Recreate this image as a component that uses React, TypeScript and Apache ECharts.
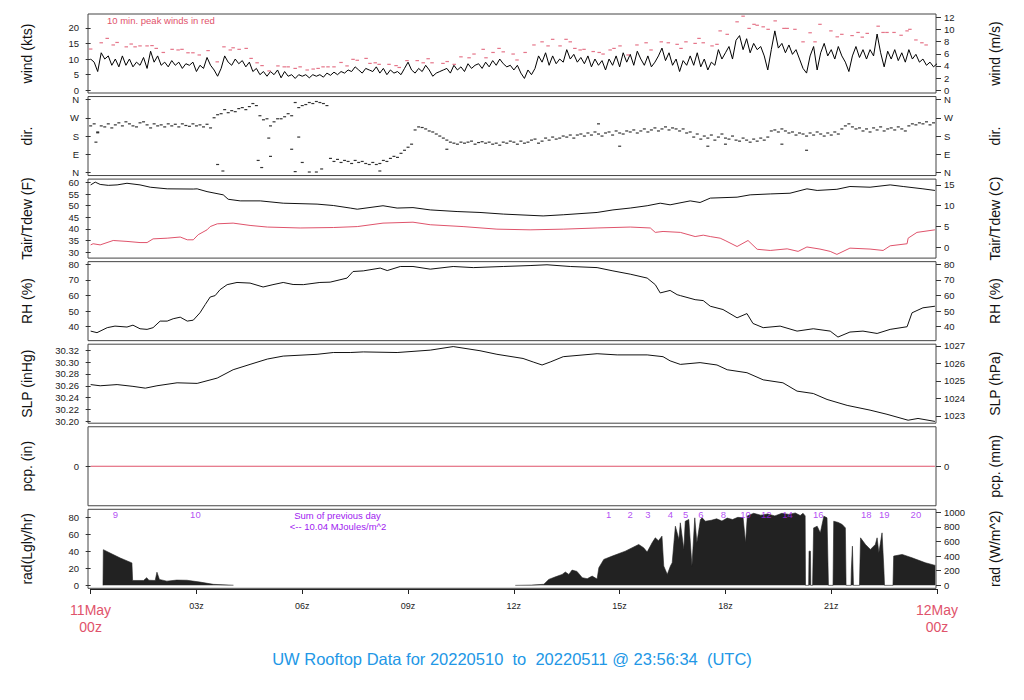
import React, { useEffect, useRef } from "react";
import * as echarts from "echarts";

const FONT = '"Liberation Sans", Arial, Helvetica, sans-serif';
const RED = "#DF536B";
const BLUE = "#2297E6";
const PURPLE = "#A020F0";

// ---------- wind speed (kts), one value every 0.1 h from 00z ----------
const WIND_STEP_H = 0.1;
const windKts = [
  10, 9, 6, 12, 10, 11, 8, 10, 7.5, 11,
  8, 10, 7.5, 9, 8, 10.5, 7, 12.5, 9, 11,
  8, 9, 7.5, 9.5, 8, 9, 7, 8.5, 8, 9,
  6, 8, 7, 10.5, 8, 6.5, 4.5, 7, 11, 9,
  8, 10, 8.5, 9.5, 7.5, 9, 6, 7, 5, 6,
  4.5, 6, 5, 6.5, 4, 6, 4.5, 5, 3.8, 5,
  4.5, 5, 4, 5, 4.5, 5, 4.2, 5.5, 4.8, 5.8,
  5, 6, 5.5, 6.5, 6, 7.5, 6.5, 5.5, 7, 6.5,
  6, 7.5, 5.5, 7, 5, 6.5, 5.5, 6, 5, 7,
  9, 6.5, 5.5, 7, 6, 8, 6.5, 4.5, 5.5, 6,
  6.5, 7, 5.5, 8, 6.5, 7.5, 6, 8.5, 7, 8,
  8.5, 7, 9, 7.5, 9.5, 8, 10, 8.5, 7.5, 8,
  6.5, 8, 5.5, 3.8, 6.5, 5, 7, 11, 9, 12,
  8, 11, 8.5, 10, 9, 13, 10, 11.5, 9, 10.5,
  8.5, 11, 7.5, 10, 8, 9.5, 6.5, 10, 8, 11,
  7.5, 12, 9, 11.5, 8, 12.5, 10, 8, 11, 7.5,
  9, 11, 13.5, 9.5, 12, 8, 10, 6, 9.5, 8,
  11, 8, 12, 7.5, 10, 6.5, 9, 8, 13, 10,
  12, 14, 10, 16, 17.5, 13, 16.5, 12, 15, 13,
  14, 11, 6.5, 13, 19, 13.5, 15, 12, 14.5, 11.5,
  13, 10, 7, 5.5, 11, 14, 6.5, 12, 15, 11,
  13, 10, 14, 11, 9, 6, 11, 14, 10.5, 13,
  10, 13, 11, 18, 12, 7.5, 12.5, 10, 13, 9.5,
  12, 9, 13, 10, 11.5, 9, 10, 8, 9, 7.5,
  8.5,
];

// ---------- 10-min peak winds [hour, kts] ----------
const peakWinds = [
  [0.0, 13.2], [0.3, 15.2], [0.47, 16.6], [0.64, 14.5], [0.75, 15.3], [1.01, 13.9], [1.15, 14.8],
  [1.26, 13.9], [1.4, 14.2], [1.6, 14.2], [1.74, 14.3], [1.86, 13.4], [2.06, 12.1], [2.31, 13.1],
  [2.48, 12.9], [2.59, 13.1], [2.76, 12.0], [2.9, 12.0], [3.08, 11.3], [3.33, 12.7], [3.59, 9.1],
  [3.78, 13.9], [3.96, 12.9], [4.04, 13.6], [4.21, 13.1], [4.41, 13.4], [4.55, 10.2], [4.72, 8.8],
  [4.86, 7.9], [5.06, 6.2], [5.31, 7.8], [5.49, 7.5], [5.6, 7.5], [5.8, 7.0], [5.94, 7.5],
  [6.14, 6.5], [6.31, 6.8], [6.45, 7.0], [6.59, 7.5], [6.73, 7.5], [6.9, 7.5], [7.1, 8.9],
  [7.27, 7.8], [7.44, 9.9], [7.56, 9.6], [7.81, 10.2], [7.92, 8.6], [8.07, 8.8], [8.18, 8.3],
  [8.46, 8.3], [8.66, 7.9], [8.75, 7.3], [8.97, 9.5], [9.26, 9.5], [9.43, 8.8], [9.57, 10.1],
  [9.68, 8.8], [9.99, 8.6], [10.11, 9.2], [10.31, 8.3], [10.5, 10.7], [10.73, 10.4], [10.87, 11.6],
  [11.13, 13.1], [11.21, 10.4], [11.41, 12.1], [11.58, 13.4], [11.7, 12.3], [11.98, 11.6],
  [12.09, 9.7], [12.32, 12.1], [12.57, 14.5], [12.8, 15.5], [12.97, 14.2], [13.1, 16.3],
  [13.31, 14.2], [13.48, 16.3], [13.6, 15.5], [13.73, 13.4], [13.88, 12.9], [13.99, 13.1],
  [14.25, 12.4], [14.42, 12.1], [14.53, 11.6], [14.73, 12.9], [14.84, 13.4], [15.01, 14.2],
  [15.24, 11.3], [15.49, 14.5], [15.75, 15.2], [15.89, 12.9], [16.18, 15.5], [16.38, 15.2],
  [16.63, 14.7], [16.74, 13.4], [16.88, 15.5], [17.14, 15.0], [17.25, 16.6], [17.37, 15.2],
  [17.62, 14.2], [17.76, 14.7], [17.85, 19.0], [18.05, 17.9], [18.33, 21.9], [18.5, 23.7],
  [18.67, 19.8], [18.81, 21.1], [18.9, 20.8], [19.07, 20.3], [19.21, 19.5], [19.41, 22.2],
  [19.66, 19.8], [19.75, 19.8], [19.97, 19.5], [20.2, 15.5], [20.4, 18.4], [20.54, 15.5],
  [20.68, 21.1], [20.99, 19.0], [21.17, 17.1], [21.3, 17.9], [21.59, 17.5], [21.76, 18.5],
  [21.88, 17.0], [22.02, 18.2], [22.33, 20.5], [22.47, 18.5], [22.58, 18.5], [22.78, 18.5],
  [22.98, 17.6], [23.15, 19.0], [23.23, 19.5], [23.4, 16.1], [23.57, 15.2], [23.69, 14.5],
];

// ---------- wind direction (deg), one value every 0.1 h ----------
const dirDeg = [
  230, 240, 200, 230, 225, 240, 220, 235, 245, 230,
  250, 240, 230, 225, 245, 250, 235, 220, 240, 230,
  235, 225, 240, 230, 238, 225, 240, 232, 228, 240,
  230, 235, 225, 238, 220, 270, 285, 290, 310, 295,
  305, 300, 315, 320, 310, 325, 340, 330, 280, 260,
  265, 230, 250, 265, 265, 275, 290, 280, 345, 320,
  330, 335, 345, 340, 350, 345, 340, 330, 70, 55,
  65, 50, 60, 55, 45, 60, 50, 55, 45, 40,
  50, 40, 45, 60, 55, 70, 80, 75, 95, 110,
  125, 140, 210, 225, 222, 215, 205, 200, 190, 180,
  170, 160, 150, 145, 140, 150, 145, 150, 155, 140,
  148, 152, 145, 150, 140, 145, 135, 150, 145, 155,
  150, 140, 155, 145, 150, 160, 165, 145, 155, 170,
  160, 175, 165, 170, 180, 175, 185, 170, 185, 190,
  180, 195, 185, 200, 190, 180, 195, 200, 185, 205,
  195, 190, 205, 200, 210, 195, 205, 215, 200, 210,
  220, 205, 215, 225, 210, 220, 215, 205, 215, 195,
  200, 175, 190, 165, 180, 170, 185, 160, 175, 190,
  170, 165, 180, 160, 155, 170, 160, 150, 165, 155,
  170, 160, 175, 205, 210, 200, 215, 205, 195, 200,
  185, 195, 190, 180, 195, 185, 200, 190, 180, 195,
  185, 200, 190, 215, 230, 240, 225, 215, 220, 205,
  215, 200, 220, 210, 225, 205, 215, 220, 210, 225,
  215, 205, 230, 240, 235, 245, 240, 250, 235, 245,
  240,
];
const dirOutliers = [
  [0.15, 150], [0.2, 196], [3.6, 40], [3.75, 8], [4.75, 60], [4.85, 25], [5.05, 170], [5.1, 80],
  [5.7, 115], [5.8, 5], [5.9, 175], [6.0, 50], [6.2, 3], [6.4, 3], [6.55, 18], [8.2, 8],
  [10.1, 115], [14.4, 240], [15.0, 130], [17.5, 130], [18.0, 140], [19.6, 140], [20.3, 110],
];

// ---------- air temperature / dew point (F) [hour, F] ----------
const tairF = [
  [0.0, 59.0], [0.13, 60.2], [0.27, 59.2], [0.5, 58.8], [0.75, 59.0], [1.03, 59.7], [1.4, 59.0],
  [1.69, 58.0], [2.17, 57.3], [2.91, 57.2], [3.02, 57.3], [3.3, 56.1], [3.76, 54.7], [3.9, 52.8],
  [4.24, 52.1], [4.81, 52.1], [5.46, 51.1], [6.42, 50.7], [6.88, 50.1], [7.36, 49.0], [7.56, 48.5],
  [8.29, 50.0], [8.69, 49.0], [9.14, 49.2], [9.63, 48.2], [10.39, 47.5], [11.04, 47.1],
  [11.7, 46.4], [12.83, 45.6], [13.4, 46.1], [14.36, 47.1], [14.81, 48.2], [15.3, 49.0],
  [15.78, 50.0], [16.15, 51.1], [16.43, 50.4], [17.0, 52.1], [17.28, 51.4], [17.57, 53.3],
  [18.33, 53.7], [18.7, 54.7], [19.27, 55.1], [19.83, 55.4], [20.31, 57.3], [20.6, 56.6],
  [21.16, 57.1], [21.53, 58.3], [22.1, 58.0], [22.67, 59.0], [23.04, 58.3], [23.6, 57.3],
  [23.94, 56.6],
];
const tdewF = [
  [0.0, 33.1], [0.07, 33.6], [0.27, 33.1], [0.64, 35.0], [1.03, 34.6], [1.4, 34.1], [1.6, 34.1],
  [1.77, 35.7], [2.17, 36.0], [2.54, 36.5], [2.74, 35.3], [2.91, 35.3], [3.05, 37.5], [3.3, 39.6],
  [3.39, 41.0], [3.59, 42.2], [4.04, 42.5], [4.52, 41.5], [5.01, 40.8], [5.94, 40.4], [6.88, 40.6],
  [7.56, 41.0], [8.29, 42.5], [9.14, 42.9], [9.63, 41.8], [10.56, 41.0], [11.52, 39.9],
  [12.46, 39.6], [13.4, 39.9], [14.36, 40.4], [15.3, 40.8], [15.87, 40.4], [16.01, 38.5],
  [16.23, 38.9], [16.72, 38.5], [17.14, 36.7], [17.37, 37.3], [17.57, 36.7], [17.85, 36.0],
  [17.99, 35.0], [18.33, 32.4], [18.64, 35.0], [18.9, 31.2], [19.27, 30.7], [19.75, 31.4],
  [20.06, 30.3], [20.31, 32.2], [20.68, 31.3], [20.97, 30.3], [21.16, 29.0], [21.53, 31.7],
  [22.1, 31.3], [22.47, 30.7], [22.67, 32.7], [23.15, 33.6], [23.18, 36.0], [23.43, 38.5],
  [23.94, 39.6],
];

// ---------- relative humidity (%) [hour, %] ----------
const rhPct = [
  [0.0, 37.2], [0.18, 36.2], [0.47, 39.4], [0.69, 40.4], [1.03, 39.8], [1.2, 41.0], [1.4, 38.7],
  [1.6, 38.3], [1.77, 39.4], [1.97, 43.6], [2.17, 43.6], [2.34, 45.1], [2.54, 46.1], [2.74, 43.6],
  [2.91, 44.2], [3.1, 48.9], [3.25, 54.2], [3.39, 59.0], [3.53, 59.9], [3.67, 63.7], [3.87, 66.9],
  [4.15, 68.3], [4.52, 67.9], [4.89, 65.4], [5.17, 66.9], [5.46, 68.3], [5.74, 67.0], [6.03, 66.9],
  [6.5, 68.3], [6.79, 68.5], [7.07, 70.0], [7.27, 71.1], [7.44, 75.3], [7.73, 75.7], [8.21, 77.5],
  [8.41, 75.9], [8.78, 78.5], [9.14, 78.5], [9.63, 76.8], [10.28, 78.5], [10.85, 77.8],
  [11.7, 78.5], [12.46, 79.1], [12.94, 79.6], [13.6, 78.5], [14.36, 77.8], [14.81, 75.7],
  [15.3, 73.6], [15.78, 71.1], [16.01, 66.9], [16.15, 61.6], [16.43, 63.2], [16.63, 60.5],
  [16.72, 59.9], [17.14, 57.3], [17.37, 56.7], [17.57, 53.1], [17.93, 51.0], [18.33, 45.7],
  [18.61, 48.4], [18.78, 42.1], [19.07, 39.4], [19.55, 40.4], [20.03, 37.2], [20.49, 38.7],
  [20.97, 37.2], [21.19, 33.4], [21.53, 36.6], [21.9, 37.2], [22.3, 35.7], [22.67, 38.3],
  [23.15, 40.0], [23.29, 48.9], [23.6, 52.1], [23.94, 53.1],
];

// ---------- sea-level pressure (inHg) [hour, inHg] ----------
const slpInHg = [
  [0.0, 30.262], [0.27, 30.26], [0.75, 30.262], [1.2, 30.259], [1.55, 30.256], [1.88, 30.26],
  [2.45, 30.265], [3.02, 30.264], [3.59, 30.273], [4.04, 30.287], [4.52, 30.296], [5.01, 30.305],
  [5.46, 30.31], [6.42, 30.313], [6.88, 30.316], [7.36, 30.316], [7.73, 30.317], [8.69, 30.316],
  [9.63, 30.32], [10.28, 30.326], [11.04, 30.319], [11.52, 30.313], [12.26, 30.306],
  [12.55, 30.3], [12.8, 30.295], [13.03, 30.3], [13.4, 30.309], [14.36, 30.314], [14.93, 30.312],
  [15.78, 30.312], [16.23, 30.309], [16.43, 30.302], [16.72, 30.296], [17.28, 30.299],
  [17.76, 30.295], [18.05, 30.287], [18.61, 30.282], [19.07, 30.27], [19.63, 30.265],
  [20.03, 30.251], [20.49, 30.247], [20.88, 30.237], [21.45, 30.227], [22.1, 30.219],
  [22.58, 30.212], [23.18, 30.202], [23.46, 30.205], [23.94, 30.2],
];

// ---------- precipitation (in) ----------
const pcpIn = [[0.0, 0], [23.94, 0]];

// ---------- solar radiation (W/m^2) [hour, W/m^2]; null = no daylight record ----------
const radW: (number | null)[][] = [
  [0.35, 0], [0.36, 488], [0.55, 442], [0.84, 374], [1.17, 307], [1.19, 67], [1.5, 67], [1.59, 105],
  [1.65, 70], [1.83, 67], [1.88, 180], [1.95, 81], [2.16, 58], [2.44, 72], [2.73, 70], [3.1, 45],
  [3.48, 14], [4.05, 2], [4.06, 0], [8.0, null],
  [12.04, 0], [12.5, 4], [12.85, 15], [12.99, 82], [13.2, 120], [13.37, 150], [13.46, 182],
  [13.56, 150], [13.65, 209], [13.79, 191], [13.94, 105], [14.08, 91], [14.22, 127], [14.36, 86],
  [14.41, 241], [14.55, 355], [14.79, 400], [15.16, 468], [15.54, 559], [15.68, 514], [15.78, 455],
  [15.92, 582], [16.01, 650], [16.1, 610], [16.2, 673], [16.25, 264], [16.35, 150], [16.44, 264],
  [16.49, 310], [16.58, 809], [16.68, 628], [16.72, 855], [16.82, 491], [16.86, 877], [16.96, 900],
  [17.05, 264], [17.13, 923], [17.19, 582], [17.29, 900], [17.34, 923], [17.43, 877], [17.6, 890],
  [17.75, 910], [17.9, 880], [18.05, 920], [18.2, 900], [18.35, 930], [18.5, 925], [18.57, 582],
  [18.62, 950], [18.8, 985], [19.0, 960], [19.2, 975], [19.4, 950], [19.6, 985], [19.8, 970],
  [19.98, 990], [20.12, 955], [20.2, 985], [20.26, 950], [20.27, 0], [20.36, 0], [20.37, 468],
  [20.41, 468], [20.42, 0], [20.47, 0], [20.5, 786], [20.6, 809], [20.69, 718], [20.79, 946],
  [20.88, 923], [20.92, 0], [21.05, 0], [21.07, 877], [21.2, 860], [21.31, 832], [21.4, 786],
  [21.42, 0], [21.56, 0], [21.57, 218], [21.6, 536], [21.63, 0], [21.8, 0], [21.83, 650],
  [21.97, 559], [22.11, 491], [22.25, 559], [22.3, 650], [22.35, 445], [22.44, 718], [22.49, 241],
  [22.51, 0], [22.75, 0], [22.77, 400], [23.01, 423], [23.29, 377], [23.67, 309], [23.95, 273],
];

// ---------- hour markers printed over the radiation panel ----------
const radMarkHours = [0.7, 2.97, 14.69, 15.3, 15.8, 16.44, 16.87, 17.3, 17.94, 18.57, 19.16, 19.76, 20.63, 21.99, 22.5, 23.4];
const radMarkLabels = ["9", "10", "1", "2", "3", "4", "5", "6", "8", "10", "12", "14", "16", "18", "19", "20"];
const RAD_MARK_LEVEL = 969;

// ---------- axis ticks ----------
const timeTicksH = [0, 3, 6, 9, 12, 15, 18, 21, 24];
const windKtsTicks = [0, 5, 10, 15, 20];
const windMsTicks = [0, 2, 4, 6, 8, 10, 12];
const dirTicks = [0, 90, 180, 270, 360];
const dirTickLabels = ["N", "E", "S", "W", "N"];
const tempFTicks = [30, 35, 40, 45, 50, 55, 60];
const tempCTicks = [0, 5, 10, 15];
const rhTicks = [40, 50, 60, 70, 80];
const slpInTicks = [30.2, 30.22, 30.24, 30.26, 30.28, 30.3, 30.32];
const slpHpaTicks = [1023, 1024, 1025, 1026, 1027];
const pcpTicks = [0];
const radLgTicks = [0, 20, 40, 60, 80];
const radWTicks = [0, 200, 400, 600, 800, 1000];

const PANEL_TOP0 = 14;
const PANEL_STEP = 82.55;
const PANEL_H = 79;
const PLOT_LEFT = 88;
const PLOT_W = 848;
const X_MIN = -0.075;
const X_MAX = 23.97;

type AxisDef = { min: number; max: number; ticks: number[]; fmt?: (v: number) => string };
type PanelDef = { left: AxisDef; right: AxisDef; lt: string; rt: string };

const compass = (v: number) => {
  const i = dirTicks.indexOf(Math.round(v));
  return i >= 0 ? dirTickLabels[i] : "";
};

const panels: PanelDef[] = [
  { left: { min: -0.86, max: 24.4, ticks: windKtsTicks }, right: { min: -0.86 * 0.5144, max: 24.4 * 0.5144, ticks: windMsTicks }, lt: "wind (kts)", rt: "wind (m/s)" },
  { left: { min: -14.4, max: 374.4, ticks: dirTicks, fmt: compass }, right: { min: -14.4, max: 374.4, ticks: dirTicks, fmt: compass }, lt: "dir.", rt: "dir." },
  { left: { min: 27.4, max: 61.5, ticks: tempFTicks }, right: { min: ((27.4 - 32) * 5) / 9, max: ((61.5 - 32) * 5) / 9, ticks: tempCTicks }, lt: "Tair/Tdew (F)", rt: "Tair/Tdew (C)" },
  { left: { min: 31.1, max: 81.6, ticks: rhTicks }, right: { min: 31.1, max: 81.6, ticks: rhTicks }, lt: "RH (%)", rt: "RH (%)" },
  { left: { min: 30.197, max: 30.33, ticks: slpInTicks, fmt: (v) => v.toFixed(2) }, right: { min: 30.197 / 0.02953, max: 30.33 / 0.02953, ticks: slpHpaTicks }, lt: "SLP (inHg)", rt: "SLP (hPa)" },
  { left: { min: -1, max: 1, ticks: pcpTicks }, right: { min: -1, max: 1, ticks: pcpTicks }, lt: "pcp. (in)", rt: "pcp. (mm)" },
  { left: { min: -3.44, max: 89.4, ticks: radLgTicks }, right: { min: -40, max: 1040, ticks: radWTicks }, lt: "rad(Lgly/hr)", rt: "rad (W/m^2)" },
];

const pad2 = (n: number) => (n < 10 ? "0" + n : "" + n);

function buildOption() {
  const grids: any[] = [];
  const xAxes: any[] = [];
  const yAxes: any[] = [];
  const graphics: any[] = [];

  panels.forEach((p, i) => {
    const top = PANEL_TOP0 + i * PANEL_STEP;
    grids.push({ left: PLOT_LEFT, width: PLOT_W, top, height: PANEL_H, show: true, borderColor: "#444", borderWidth: 1, backgroundColor: "transparent" });
    xAxes.push({ type: "value", gridIndex: i, min: X_MIN, max: X_MAX, show: false });
    const mk = (a: AxisDef, pos: "left" | "right") => ({
      type: "value",
      gridIndex: i,
      position: pos,
      min: a.min,
      max: a.max,
      axisLine: { show: false },
      splitLine: { show: false },
      axisTick: { show: true, length: 5, inside: false, customValues: a.ticks, lineStyle: { color: "#333", width: 1 } },
      axisLabel: {
        show: true,
        customValues: a.ticks,
        formatter: (v: number) => (a.fmt ? a.fmt(v) : String(v)),
        fontSize: 9.5,
        fontFamily: FONT,
        color: "#222",
        margin: pos === "left" ? 9 : 8,
      },
    });
    yAxes.push(mk(p.left, "left"));
    yAxes.push(mk(p.right, "right"));
    const cy = top + PANEL_H / 2;
    graphics.push({ type: "text", x: 27, y: cy, rotation: Math.PI / 2, style: { text: p.lt, fontSize: 14, fontFamily: FONT, fill: "#111", align: "center", verticalAlign: "middle" } });
    graphics.push({ type: "text", x: 995, y: cy, rotation: Math.PI / 2, style: { text: p.rt, fontSize: 14, fontFamily: FONT, fill: "#111", align: "center", verticalAlign: "middle" } });
  });

  // shared time axis under the last panel
  grids.push({ left: 90.6, width: 846.4, top: 588, height: 1, show: false });
  xAxes.push({
    type: "value",
    gridIndex: 7,
    min: 0,
    max: 24,
    position: "bottom",
    axisLine: { show: true, onZero: false, lineStyle: { color: "#222", width: 1 } },
    axisTick: { show: true, length: 5, inside: false, customValues: timeTicksH, lineStyle: { color: "#222" } },
    splitLine: { show: false },
    axisLabel: {
      show: true,
      customValues: timeTicksH,
      margin: 12,
      fontSize: 9,
      fontFamily: FONT,
      color: "#222",
      formatter: (v: number) => {
        if (v === 0) return "{r|11May}\n{r|00z}";
        if (v === 24) return "{r|12May}\n{r|00z}";
        return pad2(v) + "z";
      },
      rich: { r: { fontSize: 14, color: RED, fontFamily: FONT, lineHeight: 17, align: "center" } },
    },
  });
  yAxes.push({ type: "value", gridIndex: 7, min: 0, max: 1, show: false });

  graphics.push({ type: "text", x: 107, y: 20, style: { text: "10 min. peak winds in red", fontSize: 9.5, fontFamily: FONT, fill: RED, align: "left", verticalAlign: "middle" } });
  graphics.push({ type: "text", x: 337.5, y: 515, style: { text: "Sum of previous day", fontSize: 9.5, fontFamily: FONT, fill: PURPLE, align: "center", verticalAlign: "middle" } });
  graphics.push({ type: "text", x: 338, y: 526, style: { text: "<-- 10.04 MJoules/m^2", fontSize: 9.5, fontFamily: FONT, fill: PURPLE, align: "center", verticalAlign: "middle" } });
  graphics.push({ type: "text", x: 512, y: 659, style: { text: "UW Rooftop Data for 20220510  to  20220511 @ 23:56:34  (UTC)", fontSize: 16.5, fontFamily: FONT, fill: BLUE, align: "center", verticalAlign: "middle" } });

  const series: any[] = [
    {
      type: "line", name: "wind", xAxisIndex: 0, yAxisIndex: 0, showSymbol: false, silent: true,
      data: windKts.map((v, i) => [i * WIND_STEP_H, v]),
      lineStyle: { color: "#000", width: 1 }, z: 3,
    },
    {
      type: "scatter", name: "peak", xAxisIndex: 0, yAxisIndex: 0, silent: true,
      data: peakWinds, symbol: "rect", symbolSize: [3.5, 1.2], itemStyle: { color: RED }, z: 4,
    },
    {
      type: "scatter", name: "dir", xAxisIndex: 1, yAxisIndex: 2, silent: true,
      data: dirDeg.map((v, i) => [i * WIND_STEP_H, v]).concat(dirOutliers),
      symbol: "rect", symbolSize: [3, 1.2], itemStyle: { color: "#000" },
    },
    {
      type: "line", name: "tair", xAxisIndex: 2, yAxisIndex: 4, showSymbol: false, silent: true,
      data: tairF, lineStyle: { color: "#111", width: 1 },
    },
    {
      type: "line", name: "tdew", xAxisIndex: 2, yAxisIndex: 4, showSymbol: false, silent: true,
      data: tdewF, lineStyle: { color: RED, width: 1 },
    },
    {
      type: "line", name: "rh", xAxisIndex: 3, yAxisIndex: 6, showSymbol: false, silent: true,
      data: rhPct, lineStyle: { color: "#111", width: 1 },
    },
    {
      type: "line", name: "slp", xAxisIndex: 4, yAxisIndex: 8, showSymbol: false, silent: true,
      data: slpInHg, lineStyle: { color: "#111", width: 1 },
    },
    {
      type: "line", name: "pcp", xAxisIndex: 5, yAxisIndex: 10, showSymbol: false, silent: true,
      data: pcpIn, lineStyle: { color: RED, width: 1 },
    },
    {
      type: "line", name: "rad", xAxisIndex: 6, yAxisIndex: 13, showSymbol: false, silent: true,
      connectNulls: false,
      data: radW, lineStyle: { color: "#222", width: 0.6 }, areaStyle: { color: "#222", opacity: 1 },
    },
    {
      type: "scatter", name: "radMarks", xAxisIndex: 6, yAxisIndex: 13, silent: true,
      data: radMarkHours.map((h) => [h, RAD_MARK_LEVEL]),
      symbolSize: 0.1, itemStyle: { color: "rgba(0,0,0,0)" }, z: 5,
      label: {
        show: true, position: "inside", fontSize: 9.5, fontFamily: FONT, color: PURPLE,
        formatter: (p: any) => radMarkLabels[p.dataIndex],
      },
    },
  ];

  return {
    animation: false,
    backgroundColor: "#fff",
    textStyle: { fontFamily: FONT },
    grid: grids,
    xAxis: xAxes,
    yAxis: yAxes,
    series,
    graphic: graphics,
  };
}

export default function App() {
  const ref = useRef<HTMLDivElement>(null);
  useEffect(() => {
    if (!ref.current) return;
    const chart = echarts.init(ref.current, null, { renderer: "svg" });
    chart.setOption(buildOption() as any);
    return () => chart.dispose();
  }, []);
  return (
    <div
      ref={ref}
      style={{ position: "fixed", left: 0, top: 0, width: 1024, height: 700, background: "#fff" }}
    />
  );
}
